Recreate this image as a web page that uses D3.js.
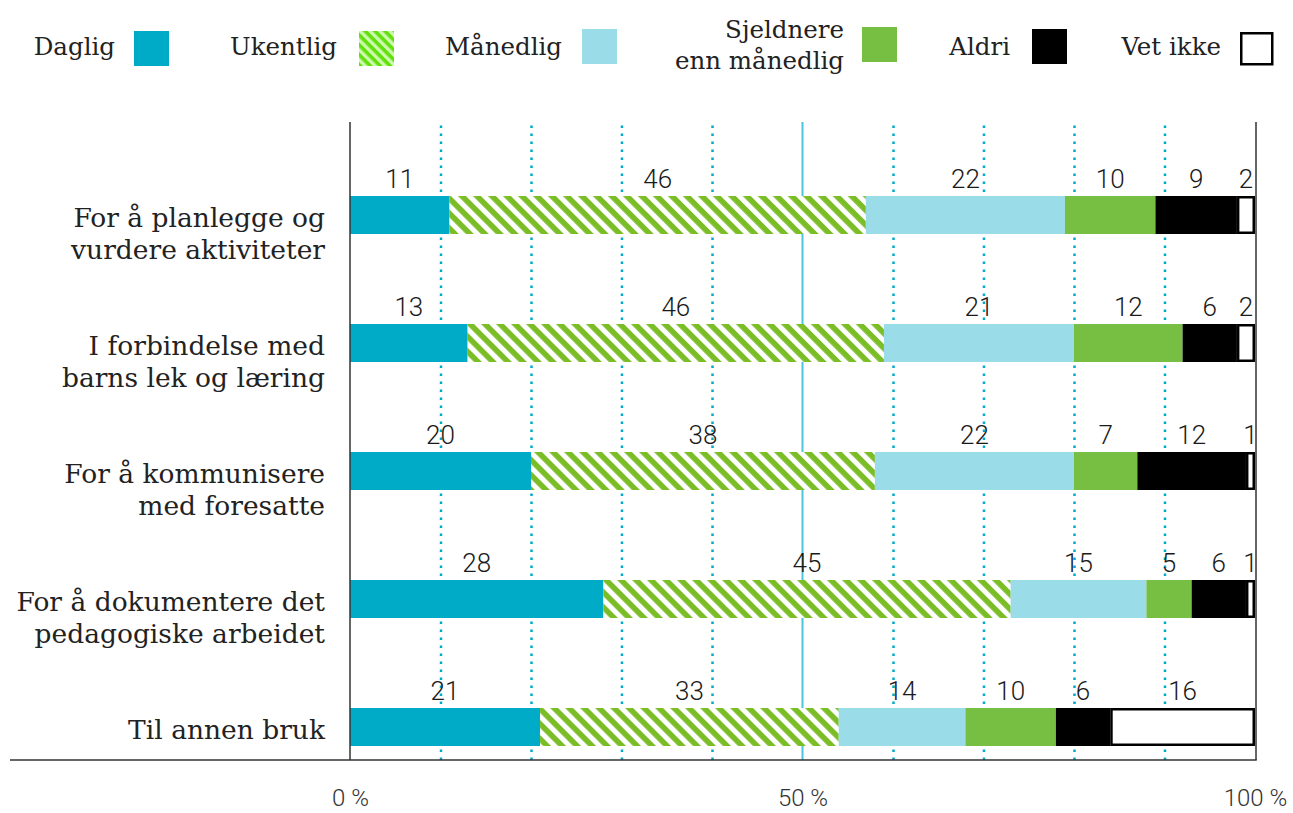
<!DOCTYPE html>
<html>
<head>
<meta charset="utf-8">
<script src="https://cdn.jsdelivr.net/npm/d3@7"></script>
<style>
  body { margin: 0; background: #fff; }
  svg { display: block; }
</style>
</head>
<body>
<div id="chart"></div>
<script>
// kategorier (linjeskift med \n)
const categories = [
  "For å planlegge og\nvurdere aktiviteter",
  "I forbindelse med\nbarns lek og læring",
  "For å kommunisere\nmed foresatte",
  "For å dokumentere det\npedagogiske arbeidet",
  "Til annen bruk"
];
const seriesNames = ["Daglig", "Ukentlig", "Månedlig", "Sjeldnere\nenn månedlig", "Aldri", "Vet ikke"];
const daglig     = [11, 13, 20, 28, 21];
const ukentlig   = [46, 46, 38, 45, 33];
const maanedlig  = [22, 21, 22, 15, 14];
const sjeldnere  = [10, 12, 7, 5, 10];
const aldri      = [9, 6, 12, 6, 6];
const vetIkke    = [2, 2, 1, 1, 16];
const xTicks     = [0, 50, 100];
const gridTicks  = [10, 20, 30, 40, 60, 70, 80, 90];

const W = 1293, H = 813;
const series = [daglig, ukentlig, maanedlig, sjeldnere, aldri, vetIkke];
const fills = ["#00abc7", "url(#hatch)", "#9adde8", "#76bf43", "#000", "#fff"];
const legendFills = ["#00abc7", "url(#hatchLegend)", "#9adde8", "#76bf43", "#000", "#fff"];

const svg = d3.select("#chart").append("svg").attr("width", W).attr("height", H);

const defs = svg.append("defs");
const hatch = defs.append("pattern").attr("id", "hatch")
  .attr("patternUnits", "userSpaceOnUse").attr("width", 10.6).attr("height", 10.6)
  .attr("patternTransform", "rotate(45)");
hatch.append("rect").attr("width", 10.6).attr("height", 10.6).attr("fill", "#fff");
hatch.append("rect").attr("width", 10.6).attr("height", 5.6).attr("fill", "#7bbd27");

const hatchL = defs.append("pattern").attr("id", "hatchLegend")
  .attr("patternUnits", "userSpaceOnUse").attr("width", 7).attr("height", 7)
  .attr("patternTransform", "rotate(45)");
hatchL.append("rect").attr("width", 7).attr("height", 7).attr("fill", "#cdfbb0");
hatchL.append("rect").attr("width", 7).attr("height", 3.6).attr("fill", "#62e00c");

const x = d3.scaleLinear().domain([0, 100]).range([350, 1255]);
const y = d3.scalePoint().domain(categories).range([215, 727]);
const barH = 38;
const plotTop = 122, plotBottom = 760;

// rutenett
svg.append("g").attr("transform", `translate(0,${plotBottom})`)
  .call(d3.axisBottom(x).tickValues(gridTicks).tickSize(-(plotBottom - plotTop)).tickFormat(""))
  .call(g => g.select(".domain").remove())
  .call(g => g.selectAll("line").attr("stroke", "#00aac8").attr("stroke-width", 2.5)
    .attr("stroke-dasharray", "2.5,5.5"));
svg.append("line").attr("x1", x(50)).attr("x2", x(50)).attr("y1", plotTop).attr("y2", plotBottom)
  .attr("stroke", "#4cc5dc").attr("stroke-width", 2);

// stolper
const rows = categories.map((c, i) => {
  let acc = 0;
  return series.map((s, j) => {
    const seg = { cat: c, j, v: s[i], x0: acc, x1: acc + s[i] };
    acc += s[i];
    return seg;
  });
});

const rowG = svg.selectAll(".row").data(rows).join("g").attr("class", "row");
rowG.selectAll("rect").data(d => d).join("rect")
  .attr("x", d => d.j === 5 ? x(d.x0) + 1.25 : x(d.x0))
  .attr("y", d => d.j === 5 ? y(d.cat) - barH / 2 + 1.25 : y(d.cat) - barH / 2)
  .attr("width", d => d.j === 5 ? Math.max(0, x(d.x1) - x(d.x0) - 2.5) : x(d.x1) - x(d.x0))
  .attr("height", d => d.j === 5 ? barH - 2.5 : barH)
  .attr("fill", d => fills[d.j])
  .attr("stroke", d => d.j === 5 ? "#000" : "none")
  .attr("stroke-width", 2.5);

rowG.selectAll("text").data(d => d).join("text")
  .attr("x", d => x((d.x0 + d.x1) / 2))
  .attr("y", d => y(d.cat) - barH / 2 - 8)
  .attr("text-anchor", "middle")
  .style("font-family", "Roboto, sans-serif").style("font-weight", 300)
  .style("font-size", "26px").attr("fill", "#1a1a1a")
  .text(d => d.v);

// akser
svg.append("line").attr("x1", x(0)).attr("x2", x(0)).attr("y1", plotTop).attr("y2", plotBottom)
  .attr("stroke", "#333").attr("stroke-width", 1.5);
svg.append("line").attr("x1", x(100) + 1).attr("x2", x(100) + 1).attr("y1", plotTop).attr("y2", plotBottom)
  .attr("stroke", "#333").attr("stroke-width", 1.5);
svg.append("line").attr("x1", 10).attr("x2", x(100) + 1.75).attr("y1", plotBottom).attr("y2", plotBottom)
  .attr("stroke", "#333").attr("stroke-width", 1.5);

svg.append("g").attr("transform", `translate(0,${plotBottom})`)
  .call(d3.axisBottom(x).tickValues(xTicks).tickSize(0).tickPadding(29).tickFormat(d => d + " %"))
  .call(g => g.select(".domain").remove())
  .call(g => g.selectAll("text").style("font-family", "Roboto, sans-serif").style("font-weight", 300)
    .style("font-size", "24px").attr("fill", "#333"));

// kategorietiketter
const serif = "'Roboto Slab', 'DejaVu Serif', serif";
svg.selectAll(".cat").data(categories).join("text").attr("class", "cat")
  .attr("x", 325).attr("y", d => y(d) + 12)
  .attr("text-anchor", "end")
  .style("font-family", serif).style("font-size", "26.5px").attr("fill", "#222")
  .selectAll("tspan").data(d => d.split("\n")).join("tspan")
  .attr("x", 325).attr("dy", (d, i) => i === 0 ? 0 : 32)
  .text(d => d);

// tegnforklaring
const legendItems = [
  { tx: 115, sx: 134, sy: 31 },
  { tx: 337, sx: 359, sy: 31 },
  { tx: 562, sx: 582, sy: 29 },
  { tx: 844, sx: 862, sy: 27 },
  { tx: 1010, sx: 1032, sy: 29 },
  { tx: 1221, sx: 1240, sy: 31 }
];
const leg = svg.selectAll(".leg").data(seriesNames).join("g").attr("class", "leg");
leg.append("rect")
  .attr("x", (d, i) => legendItems[i].sx + (i === 5 ? 1.25 : 0))
  .attr("y", (d, i) => legendItems[i].sy + (i === 5 ? 2.25 : 0))
  .attr("width", (d, i) => i === 5 ? 31 : 35)
  .attr("height", (d, i) => i === 5 ? 31 : 35)
  .attr("fill", (d, i) => legendFills[i])
  .attr("stroke", (d, i) => i === 5 ? "#000" : "none")
  .attr("stroke-width", 2.5);
leg.append("text")
  .attr("x", (d, i) => legendItems[i].tx)
  .attr("y", (d, i) => d.includes("\n") ? 38 : 55)
  .attr("text-anchor", "end")
  .style("font-family", serif).style("font-size", "24.5px").attr("fill", "#222")
  .selectAll("tspan").data(d => d.split("\n")).join("tspan")
  .attr("x", function() { return d3.select(this.parentNode).attr("x"); })
  .attr("dy", (d, i) => i === 0 ? 0 : 31)
  .text(d => d);
</script>
</body>
</html>
